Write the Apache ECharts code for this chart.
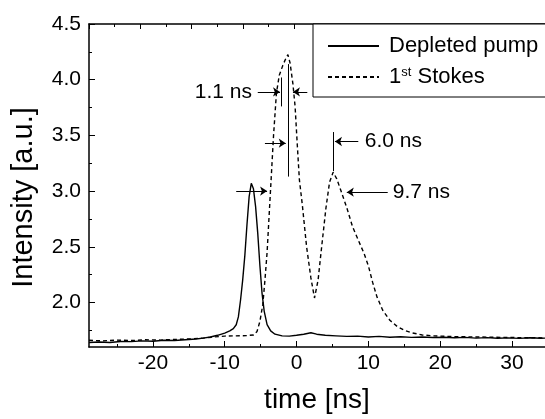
<!DOCTYPE html>
<html>
<head>
<meta charset="utf-8">
<script src="https://cdn.jsdelivr.net/npm/echarts@6/dist/echarts.min.js"></script>
<style>
html, body { margin: 0; padding: 0; background: #fff; }
#main { width: 545px; height: 419px; }
</style>
</head>
<body>
<div id="main"></div>
<script>
// depleted pump (solid)
var pumpTime = [-28.9, -27.5, -26, -24.5, -23, -21.5, -20, -18.5, -17, -15.5, -14, -13, -12, -11, -10, -9.3, -8.8, -8.4, -8.1, -7.8,
	-7.5, -7.2, -6.9, -6.6, -6.3, -6.0, -5.7, -5.4, -5.1, -4.8, -4.5, -4.1, -3.6, -3.0, -2.0, -1.0, 0, 1, 2, 2.8,
	4, 5.5, 7, 8.5, 10, 11.5, 13, 14.5, 16, 17.5, 19, 20.5, 22, 23.5, 25, 26.5, 28, 29.5, 31, 32.5, 34, 34.6];
var pumpValue = [1.640, 1.645, 1.640, 1.650, 1.648, 1.655, 1.652, 1.660, 1.658, 1.665, 1.672, 1.680, 1.690, 1.705, 1.725, 1.745, 1.765, 1.800, 1.870, 2.020,
	2.200, 2.420, 2.700, 2.950, 3.070, 3.020, 2.860, 2.620, 2.330, 2.080, 1.920, 1.800, 1.745, 1.715, 1.700, 1.698, 1.705, 1.715, 1.728, 1.715,
	1.705, 1.700, 1.695, 1.698, 1.690, 1.695, 1.688, 1.692, 1.686, 1.690, 1.685, 1.688, 1.683, 1.686, 1.680, 1.684, 1.679, 1.682, 1.677, 1.683, 1.678, 1.680];

// 1st Stokes (dashed)
var stokesTime = [-28.9, -27, -25, -23, -21, -19, -17, -15, -13, -11.5, -10, -8.5, -7, -6, -5.5, -5.1, -4.7, -4.4, -4.1, -3.8,
	-3.5, -3.2, -2.8, -2.4, -1.9, -1.5, -1.2, -0.9, -0.5, -0.2, 0.1, 0.4, 0.8, 1.4, 2.0, 2.5, 3.0, 3.5, 4.1, 4.6,
	5.1, 5.6, 6.2, 7.0, 7.8, 8.6, 9.4, 10.0, 10.6, 11.2, 12.0, 13.0, 14.0, 15.0, 16.0, 17.5, 19, 21, 23, 25,
	27, 29, 31, 33, 34.6];
var stokesValue = [1.660, 1.655, 1.662, 1.658, 1.665, 1.662, 1.668, 1.672, 1.680, 1.690, 1.698, 1.700, 1.702, 1.708, 1.740, 1.830, 1.980, 2.200, 2.450, 2.800,
	3.150, 3.500, 3.880, 4.040, 4.130, 4.190, 4.225, 4.150, 3.960, 3.760, 3.420, 3.100, 2.880, 2.500, 2.220, 2.040, 2.200, 2.500, 2.850, 3.080,
	3.170, 3.110, 3.000, 2.850, 2.680, 2.560, 2.440, 2.330, 2.180, 2.050, 1.930, 1.840, 1.785, 1.750, 1.728, 1.708, 1.700, 1.695, 1.692, 1.690,
	1.688, 1.686, 1.684, 1.683, 1.682];

// axis ticks
var xLabels = [-20, -10, 0, 10, 20, 30];
var xMinor = [-25, -15, -5, 5, 15, 25];
var yLabels = [2.0, 2.5, 3.0, 3.5, 4.0, 4.5];
var yMinor = [1.75, 2.25, 2.75, 3.25, 3.75, 4.25];

var FONT = "'Liberation Sans', Arial, sans-serif";

function pairs(xs, ys) {
	var out = [];
	for (var i = 0; i < xs.length; i++) out.push([xs[i], ys[i]]);
	return out;
}

// arrows and marker lines (data coords)
function arrow(x1, y1, x2, y2) {
	return [{coord: [x1, y1], symbol: 'none'}, {coord: [x2, y2], symbol: 'arrow'}];
}
function bar(x, y1, y2) {
	return [{coord: [x, y1], symbol: 'none'}, {coord: [x, y2], symbol: 'none'}];
}
function note(x, y, text, side) {
	return {coord: [x, y], label: {position: side, distance: 0, formatter: text}};
}

var chart = echarts.init(document.getElementById('main'));

chart.setOption({
	animation: false,
	backgroundColor: '#fff',
	textStyle: {fontFamily: FONT, color: '#000'},
	grid: {left: 89, top: 24, right: 0, bottom: 68},
	legend: {
		data: ['Depleted pump', '1st Stokes'],
		orient: 'vertical',
		left: 313, top: 24,
		itemWidth: 51, itemHeight: 14, itemGap: 7,
		padding: [10, 90, 8, 14],
		borderColor: '#000', borderWidth: 1,
		backgroundColor: '#fff',
		selectedMode: false,
		itemStyle: {opacity: 0},
		formatter: function (name) {
			return name == '1st Stokes' ? '1{sup|st} Stokes' : name;
		},
		textStyle: {
			fontFamily: FONT, fontSize: 22, lineHeight: 24, color: '#000', padding: [0, 0, 0, 5],
			rich: {sup: {fontFamily: FONT, fontSize: 13, lineHeight: 24, padding: [0, 0, 10, 0]}}
		}
	},
	xAxis: [{
		type: 'value', min: -28.9, max: 34.6, position: 'bottom',
		name: 'time [ns]', nameLocation: 'middle', nameGap: 39,
		nameTextStyle: {fontFamily: FONT, fontSize: 28, color: '#000'},
		axisLine: {onZero: false, lineStyle: {color: '#000', width: 1.5}},
		axisTick: {inside: true, length: 6, customValues: xLabels, lineStyle: {color: '#000', width: 1}},
		axisLabel: {customValues: xLabels, margin: 6, fontFamily: FONT, fontSize: 21, color: '#000'},
		splitLine: {show: false}
	}, {
		type: 'value', min: -28.9, max: 34.6, position: 'bottom',
		axisLine: {show: false, onZero: false},
		axisTick: {inside: true, length: 3, customValues: xMinor, lineStyle: {color: '#000', width: 1}},
		axisLabel: {show: false},
		splitLine: {show: false}
	}, {
		type: 'value', min: -1, max: 7.89, interval: 1, position: 'top',
		axisLine: {onZero: false, lineStyle: {color: '#000', width: 1.5}},
		axisTick: {inside: true, length: 5, lineStyle: {color: '#000', width: 1}},
		minorTick: {show: true, splitNumber: 2, length: 3, lineStyle: {color: '#000', width: 1}},
		axisLabel: {show: false},
		splitLine: {show: false}
	}],
	yAxis: [{
		type: 'value', min: 1.6, max: 4.5, position: 'left',
		name: 'Intensity [a.u.]', nameLocation: 'middle', nameGap: 51,
		nameTextStyle: {fontFamily: FONT, fontSize: 29, color: '#000', padding: [0, 24, 0, 0]},
		axisLine: {show: true, onZero: false, lineStyle: {color: '#000', width: 1.5}},
		axisTick: {show: true, inside: true, length: 6, customValues: yLabels, lineStyle: {color: '#000', width: 1}},
		axisLabel: {customValues: yLabels, margin: 8, fontFamily: FONT, fontSize: 21, color: '#000',
			formatter: function (v) { return v.toFixed(1); }},
		splitLine: {show: false}
	}, {
		type: 'value', min: 1.6, max: 4.5, position: 'left',
		axisLine: {show: false, onZero: false},
		axisTick: {show: true, inside: true, length: 3, customValues: yMinor, lineStyle: {color: '#000', width: 1}},
		axisLabel: {show: false},
		splitLine: {show: false}
	}],
	series: [{
		name: 'Depleted pump',
		type: 'line',
		data: pairs(pumpTime, pumpValue),
		symbol: 'none', showSymbol: false,
		color: '#000',
		lineStyle: {color: '#000', width: 1.4, type: 'solid'},
		markLine: {
			silent: true, animation: false,
			symbolSize: 7,
			lineStyle: {color: '#000', type: 'solid', width: 1},
			label: {show: false},
			emphasis: {disabled: true},
			data: [
				arrow(-5.4, 3.89, -2.3, 3.89),
				arrow(1.5, 3.89, -0.5, 3.89),
				arrow(-4.4, 3.43, -1.5, 3.43),
				arrow(-8.4, 3.0, -4.1, 3.0),
				arrow(8.6, 3.445, 5.35, 3.445),
				arrow(12.7, 2.99, 7.0, 2.99),
				bar(-2.17, 4.02, 3.76),
				bar(-1.2, 4.14, 3.13),
				bar(5.07, 3.53, 3.18)
			]
		}
	}, {
		name: '1st Stokes',
		type: 'line',
		data: pairs(stokesTime, stokesValue),
		symbol: 'none', showSymbol: false,
		color: '#000',
		lineStyle: {color: '#000', width: 1.4, type: [4, 3]},
		markPoint: {
			silent: true, animation: false,
			symbol: 'circle', symbolSize: 0,
			itemStyle: {color: 'transparent'},
			label: {show: true, fontFamily: FONT, fontSize: 21, color: '#000'},
			data: [
				note(-6.2, 3.89, '1.1 ns', 'left'),
				note(9.5, 3.445, '6.0 ns', 'right'),
				note(13.4, 2.99, '9.7 ns', 'right')
			]
		}
	}]
});
</script>
</body>
</html>
